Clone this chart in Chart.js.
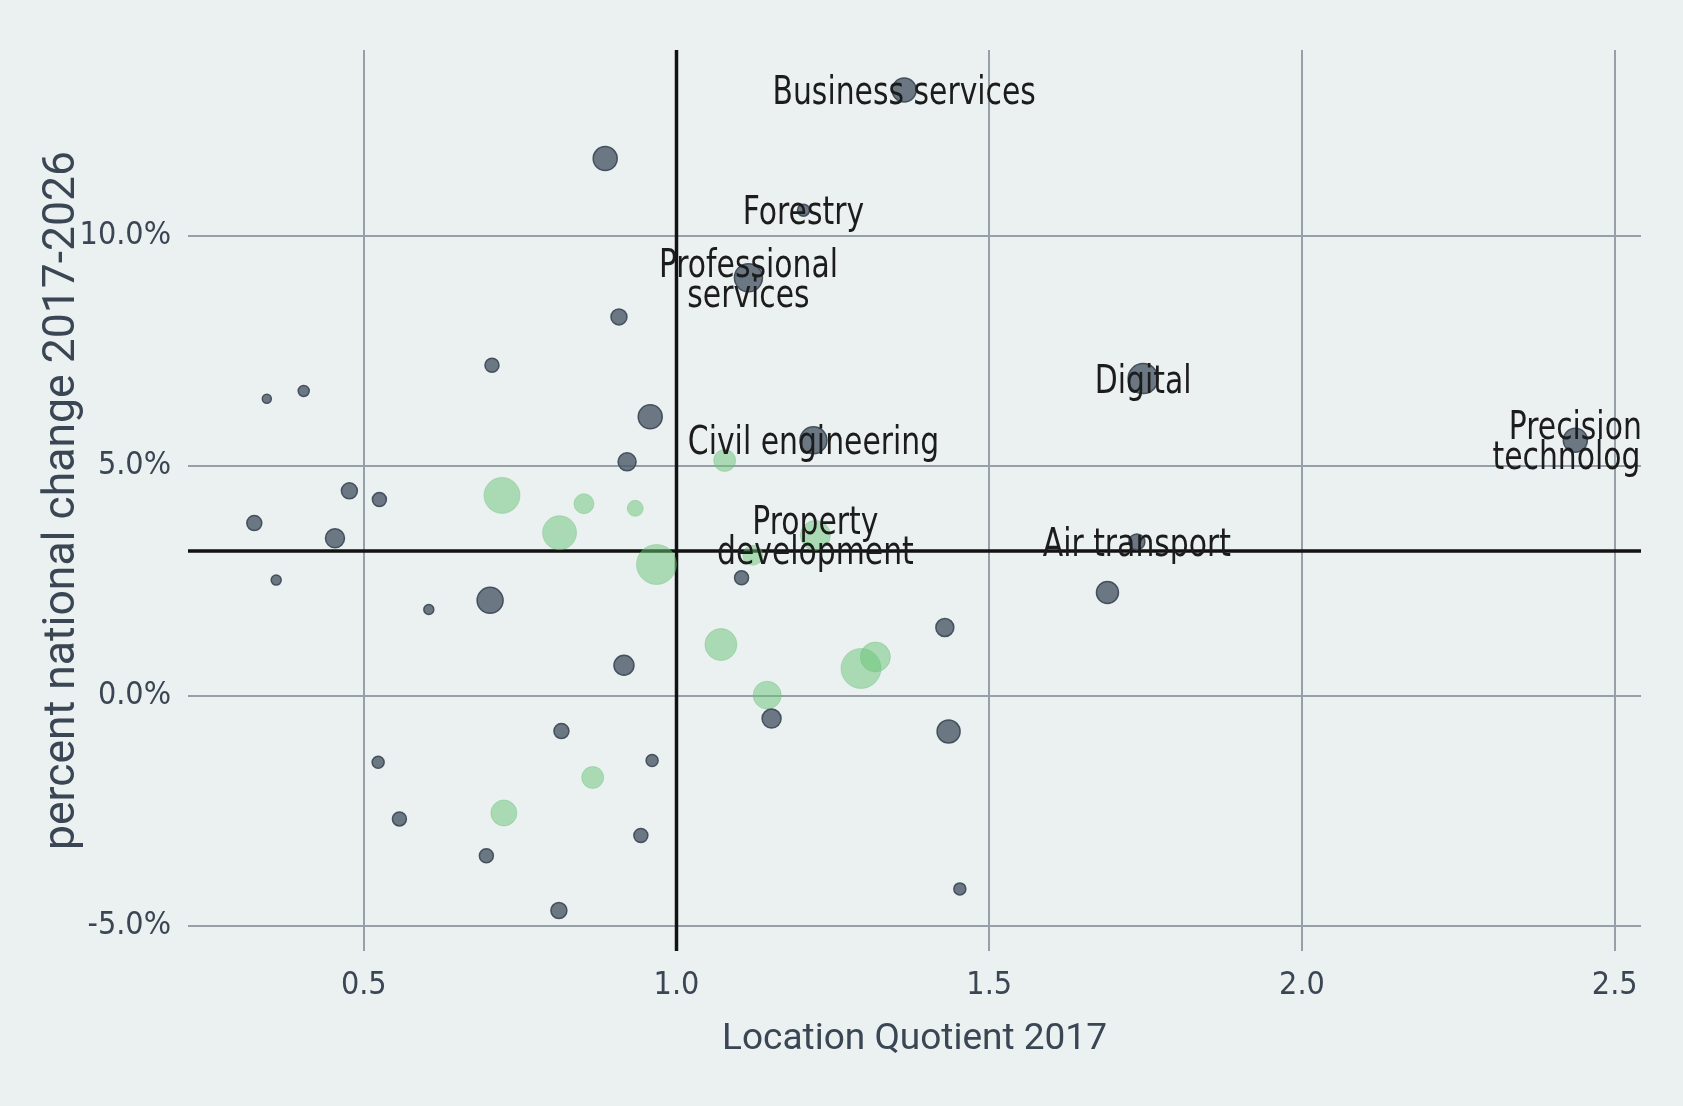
<!DOCTYPE html>
<html>
<head>
<meta charset="utf-8">
<script src="https://cdn.jsdelivr.net/npm/chart.js@4.4.1/dist/chart.umd.min.js"></script>
<style>
  html, body { margin: 0; padding: 0; background: #ebf0f1; }
  #wrap { width: 1683px; height: 1106px; position: relative; }
</style>
</head>
<body>
<div id="wrap"><canvas id="myChart"></canvas></div>
<script>
// sectors not in the priority group (grey)
const greyLQ = [0.886, 0.908, 0.705, 0.404, 0.345, 0.958, 0.921, 0.477, 0.525, 0.325,
  0.454, 0.360, 0.702, 0.604, 0.916, 0.816, 0.523, 0.961, 0.557, 0.943,
  0.696, 0.812, 1.364, 1.203, 1.115, 1.746, 1.219, 1.104, 1.736, 1.689,
  1.429, 1.152, 1.435, 1.453, 2.437];
const greyChange = [11.68, 8.24, 7.19, 6.63, 6.46, 6.07, 5.09, 4.46, 4.27, 3.76,
  3.43, 2.52, 2.08, 1.88, 0.67, -0.76, -1.44, -1.40, -2.67, -3.03,
  -3.47, -4.66, 13.17, 10.56, 9.09, 6.90, 5.56, 2.57, 3.35, 2.25,
  1.49, -0.49, -0.77, -4.19, 5.56];
const greySize = [12, 8, 7, 5.5, 4.5, 12, 9, 8, 7, 7.5,
  9.5, 5, 13, 5, 10, 7.5, 6, 6, 7, 7,
  7, 8, 12, 6, 14, 15, 13.5, 7, 8, 11,
  9, 9.5, 11.5, 6, 12];
const greyNames = ['', '', '', '', '', '', '', '', '', '',
  '', '', '', '', '', '', '', '', '', '',
  '', '', 'Business services', 'Forestry', 'Professional\nservices', 'Digital', 'Civil engineering', '', 'Air transport', '',
  '', '', '', '', 'Precision\ntechnology'];

// priority sectors (green)
const greenLQ = [0.721, 0.852, 0.934, 0.813, 0.968, 0.866, 0.724, 1.077, 1.222, 1.122, 1.071, 1.295, 1.318, 1.145];
const greenChange = [4.36, 4.18, 4.08, 3.55, 2.86, -1.77, -2.54, 5.12, 3.49, 3.06, 1.12, 0.60, 0.85, 0.02];
const greenSize = [18, 10, 8, 17, 20, 11, 13, 11, 15, 10, 16, 20, 15, 14];
const greenNames = ['', '', '', '', '', '', '', '', 'Property\ndevelopment', '', '', '', '', ''];

const xTicks = [0.5, 1.0, 1.5, 2.0, 2.5];
const yTicks = [-5, 0, 5, 10];
const lqRef = 1.0;        // location quotient of 1
const growthRef = 3.15;   // national average change

const toPoints = (xs, ys, rs) => xs.map((v, i) => ({ x: v, y: ys[i], r: rs[i] }));

const refLines = {
  id: 'refLines',
  beforeDatasetsDraw(chart) {
    const { ctx, chartArea: a, scales: { x, y } } = chart;
    const px = x.getPixelForValue(lqRef);
    const py = y.getPixelForValue(growthRef);
    ctx.save();
    ctx.strokeStyle = '#121212';
    ctx.lineWidth = 3.5;
    ctx.beginPath();
    ctx.moveTo(px, a.top);
    ctx.lineTo(px, a.bottom);
    ctx.moveTo(a.left, py);
    ctx.lineTo(a.right, py);
    ctx.stroke();
    ctx.restore();
  }
};

// names drawn centred on their bubble, squeezed a bit to look like a narrow face
const pointLabels = {
  id: 'pointLabels',
  afterDatasetsDraw(chart) {
    const { ctx, chartArea: a } = chart;
    ctx.save();
    ctx.beginPath();
    ctx.rect(a.left, a.top, a.right - a.left, a.bottom - a.top);
    ctx.clip();
    ctx.font = '39px "DejaVu Sans Condensed", "Liberation Sans Narrow", sans-serif';
    ctx.fillStyle = '#1c1c1c';
    ctx.textAlign = 'center';
    ctx.textBaseline = 'alphabetic';
    chart.data.datasets.forEach((ds, di) => {
      const meta = chart.getDatasetMeta(di);
      ds.names.forEach((name, i) => {
        if (!name) return;
        const el = meta.data[i];
        const lines = name.split('\n');
        lines.forEach((line, li) => {
          const base = el.y + 14 - (lines.length - 1) * 15 + li * 30;
          ctx.save();
          ctx.translate(el.x, base);
          ctx.scale(0.85, 1);
          ctx.fillText(line, 0, 0);
          ctx.restore();
        });
      });
    });
    ctx.restore();
  }
};

const gridColor = '#979fa9';
const tickColor = '#3a4653';
const tickFont = { family: '"DejaVu Sans Condensed", sans-serif', size: 32 };

new Chart('myChart', {
  type: 'bubble',
  data: {
    datasets: [
      {
        label: 'Other sectors',
        data: toPoints(greyLQ, greyChange, greySize),
        names: greyNames,
        backgroundColor: 'rgba(75, 90, 104, 0.8)',
        borderColor: 'rgba(58, 70, 83, 0.9)',
        borderWidth: 1.5
      },
      {
        label: 'Priority sectors',
        data: toPoints(greenLQ, greenChange, greenSize),
        names: greenNames,
        backgroundColor: 'rgba(104, 196, 118, 0.5)',
        borderColor: 'rgba(104, 190, 118, 0.35)',
        borderWidth: 1
      }
    ]
  },
  options: {
    responsive: true,
    maintainAspectRatio: false,
    animation: false,
    events: [],
    layout: { padding: { left: 0, right: 42, top: 50, bottom: 0 } },
    plugins: {
      legend: { display: false },
      tooltip: { enabled: false }
    },
    scales: {
      x: {
        type: 'linear',
        min: 0.219,
        max: 2.542,
        afterBuildTicks: (s) => { s.ticks = xTicks.map((v) => ({ value: v })); },
        afterFit: (s) => { s.height = 155; },
        border: { display: false },
        grid: { color: gridColor, lineWidth: 2, drawTicks: false },
        ticks: {
          color: tickColor,
          padding: 15,
          font: tickFont,
          callback: (v) => Number(v).toFixed(1)
        },
        title: {
          display: true,
          text: 'Location Quotient 2017',
          color: tickColor,
          font: { family: 'Roboto, sans-serif', size: 37 },
          padding: { top: 0, bottom: 44 }
        }
      },
      y: {
        type: 'linear',
        min: -5.54,
        max: 14.04,
        afterBuildTicks: (s) => { s.ticks = yTicks.map((v) => ({ value: v })); },
        afterFit: (s) => { s.width = 188; },
        border: { display: false },
        grid: { color: gridColor, lineWidth: 2, drawTicks: false },
        ticks: {
          color: tickColor,
          padding: 17,
          font: tickFont,
          callback: (v) => Number(v).toFixed(1) + '%'
        },
        title: {
          display: true,
          text: 'percent national change 2017-2026',
          color: tickColor,
          font: { family: 'Roboto, sans-serif', size: 44.5 },
          padding: { top: 36, bottom: 0 }
        }
      }
    }
  },
  plugins: [refLines, pointLabels]
});
</script>
</body>
</html>
